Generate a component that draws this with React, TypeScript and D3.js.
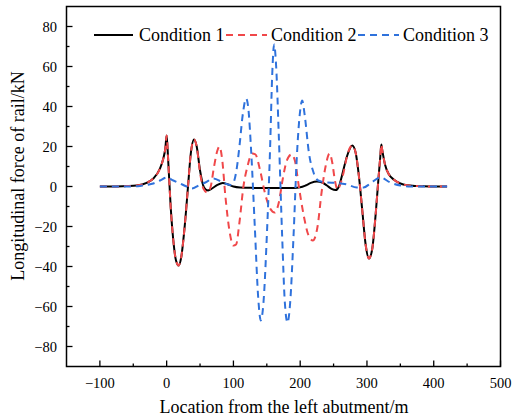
import React from 'react';
import * as d3 from 'd3';

const xTicks = [-100, 0, 100, 200, 300, 400, 500];
const yTicks = [-80, -60, -40, -20, 0, 20, 40, 60, 80];
const seriesNames = ['Condition 1', 'Condition 2', 'Condition 3'];

// Condition 1 (black solid)
const c1X = [-100, -80, -60, -45, -30, -20, -10, -5, -2, 0, 2, 6, 10, 14, 18, 22, 27, 32, 36, 41, 45, 50, 56, 62, 68, 76, 84, 92, 100, 110, 130, 160, 190, 200, 208, 216, 225, 233, 240, 247, 253, 258, 263, 270, 278, 283, 288, 293, 298, 303, 308, 313, 317, 320, 321.5, 323, 327, 333, 340, 350, 360, 375, 395, 420];
const c1Y = [0, 0, 0.2, 0.5, 1.8, 4, 9, 14, 19, 25.5, 15, -10, -27, -37, -39.5, -35, -20, 0, 16, 23.5, 20, 8, -0.5, -2, -1, 0.8, 1.8, 1, 0, -0.5, -0.7, -0.8, -0.7, -0.4, 0.5, 1.8, 2.5, 2, 0.5, -1.2, -1.8, 0, 6, 15, 20.5, 17, 5, -12, -29, -36, -31, -14, 3, 15, 21, 18, 11, 6, 3.5, 1.5, 0.6, 0.2, 0, 0];

// Condition 2 (red dashed)
const c2X = [-100, -80, -60, -45, -30, -20, -10, -5, -2, 0, 2, 6, 10, 14, 18, 22, 27, 32, 36, 41, 45, 50, 55, 61, 66, 71, 76, 79, 83, 88, 94, 100, 104, 109, 115, 121, 128, 133, 140, 147, 155, 162, 168, 174, 180, 187, 192, 198, 205, 212, 219, 226, 232, 238, 244, 248, 252, 256, 260, 265, 270, 278, 283, 288, 293, 298, 303, 308, 313, 317, 320, 321.5, 323, 327, 333, 340, 350, 360, 375, 395, 420];
const c2Y = [0, 0, 0.2, 0.5, 1.8, 4, 9, 14, 19, 25.5, 15, -10, -27, -37, -39.5, -35, -20, 0, 16, 23.5, 20, 7, -1, -3, 0, 10, 18, 20, 14, -5, -22, -29.5, -29, -18, 0, 10, 16.5, 16, 8, -3, -11, -13, -8, 4, 13, 16, 13, 0, -14, -24, -27, -20, -3, 10, 16.5, 12, 3, -1.5, 1, 7, 15, 20.5, 17, 5, -12, -29, -36, -31, -14, 3, 15, 21, 18, 11, 6, 3.5, 1.5, 0.6, 0.2, 0, 0];

// Condition 3 (blue dashed)
const c3X = [-100, -60, -40, -30, -20, -10, 0, 10, 20, 30, 38, 48, 58, 70, 84, 95, 100, 104, 109, 114, 119, 122, 127, 132, 137, 141, 145, 150, 155, 158, 161, 164, 168, 173, 177, 181, 185, 190, 195, 200, 203, 207, 213, 220, 227, 240, 255, 270, 285, 295, 305, 320, 335, 350, 365, 390, 420];
const c3Y = [0, 0, 0.3, 0.8, 1.5, 3, 4.5, 3, 1.5, 0, -1, 0.5, 2, 4, 2, 0.8, 2, 7, 20, 36, 44, 40, 15, -20, -55, -67, -58, -25, 20, 55, 71, 60, 25, -25, -58, -68, -58, -25, 15, 38, 43, 35, 17, 7, 3, 2, 1.8, 1, -0.5, -0.5, 1.5, 4.5, 2, 0.5, 0, 0, 0];

const W = 512;
const H = 420;
const left = 66.5;
const right = 500.5;
const top = 6.5;
const bottom = 366.5;

export default function App() {
  const x = d3.scaleLinear().domain([-150, 500]).range([left, right]);
  const y = d3.scaleLinear().domain([-90, 90]).range([bottom, top]);
  const line = d3
    .line<[number, number]>()
    .x((d) => x(d[0]))
    .y((d) => y(d[1]))
    .curve(d3.curveMonotoneX);
  const zip = (xs: number[], ys: number[]) => xs.map((v, i) => [v, ys[i]] as [number, number]);
  const series = [
    { d: zip(c1X, c1Y), color: '#000000', dash: undefined as string | undefined, w: 2 },
    { d: zip(c2X, c2Y), color: '#f0484a', dash: '7,5', w: 2 },
    { d: zip(c3X, c3Y), color: '#2f72dc', dash: '7,5', w: 2 },
  ];
  const fmt = (v: number) => (v < 0 ? '\u2212' + Math.abs(v) : String(v));
  const xMinor = d3.range(-150, 501, 50).filter((v) => v % 100 !== 0 && v > -150);
  const yMinor = d3.range(-90, 91, 10).filter((v) => v % 20 !== 0 && v > -90 && v < 90);
  const font = '"Liberation Serif", "Times New Roman", serif';
  const legendItems = [
    { x0: 94, x1: 133, tx: 139 },
    { x0: 226, x1: 267, tx: 271 },
    { x0: 358, x1: 399, tx: 403 },
  ];
  return (
    <svg width={W} height={H} style={{ position: 'absolute', left: 0, top: 0 }} fontFamily={font}>
      <rect x={0} y={0} width={W} height={H} fill="#fff" />
      <defs>
        <clipPath id="plotclip">
          <rect x={left} y={top} width={right - left} height={bottom - top} />
        </clipPath>
      </defs>
      <g clipPath="url(#plotclip)">
        {series.map((s, i) => (
          <path key={i} d={line(s.d) || ''} fill="none" stroke={s.color} strokeWidth={s.w} strokeDasharray={s.dash} strokeLinejoin="round" />
        ))}
      </g>
      {/* frame */}
      <rect x={left} y={top} width={right - left} height={bottom - top} fill="none" stroke="#000" strokeWidth={1.5} />
      {/* x ticks */}
      {xTicks.map((t) => (
        <g key={'xt' + t}>
          <line x1={x(t)} x2={x(t)} y1={bottom} y2={bottom - 6} stroke="#000" strokeWidth={1.3} />
          <text x={x(t)} y={388} fontSize={14.5} textAnchor="middle" fill="#000">{fmt(t)}</text>
        </g>
      ))}
      {xMinor.map((t) => (
        <line key={'xm' + t} x1={x(t)} x2={x(t)} y1={bottom} y2={bottom - 3} stroke="#000" strokeWidth={1.3} />
      ))}
      {/* y ticks */}
      {yTicks.map((t) => (
        <g key={'yt' + t}>
          <line x1={left} x2={left + 6} y1={y(t)} y2={y(t)} stroke="#000" strokeWidth={1.3} />
          <text x={57} y={y(t) + 5} fontSize={14.5} textAnchor="end" fill="#000">{fmt(t)}</text>
        </g>
      ))}
      {yMinor.map((t) => (
        <line key={'ym' + t} x1={left} x2={left + 3} y1={y(t)} y2={y(t)} stroke="#000" strokeWidth={1.3} />
      ))}
      {/* axis titles */}
      <text x={284} y={413} fontSize={18} textAnchor="middle" fill="#000">Location from the left abutment/m</text>
      <text transform={`translate(24,176) rotate(-90)`} fontSize={18} textAnchor="middle" fill="#000">Longitudinal force of rail/kN</text>
      {/* legend */}
      {series.map((s, i) => (
        <g key={'lg' + i}>
          <line x1={legendItems[i].x0} x2={legendItems[i].x1} y1={35} y2={35} stroke={s.color} strokeWidth={2} strokeDasharray={s.dash} />
          <text x={legendItems[i].tx} y={41} fontSize={18} fill="#000">{seriesNames[i]}</text>
        </g>
      ))}
    </svg>
  );
}
